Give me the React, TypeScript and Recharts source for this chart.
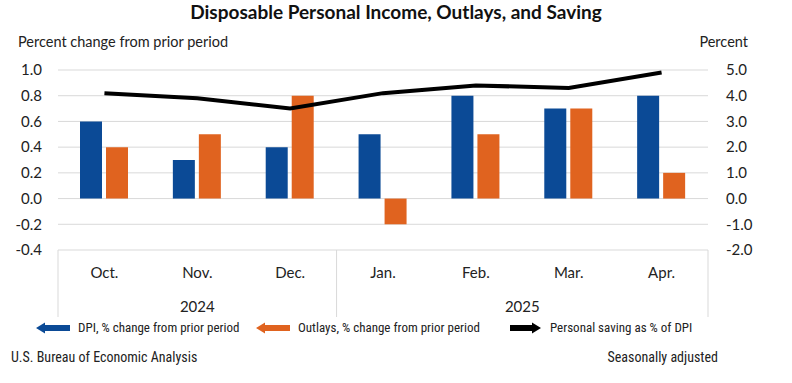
import React from 'react';
import { ComposedChart, Bar, Line, XAxis, YAxis, CartesianGrid, Legend } from 'recharts';

const months = ['Oct.', 'Nov.', 'Dec.', 'Jan.', 'Feb.', 'Mar.', 'Apr.'];
const dpiChange = [0.6, 0.3, 0.4, 0.5, 0.8, 0.7, 0.8];
const outlaysChange = [0.4, 0.5, 0.8, -0.2, 0.5, 0.7, 0.2];
const savingRate = [4.1, 3.9, 3.5, 4.1, 4.4, 4.3, 4.9];
const leftTicks = [-0.4, -0.2, 0, 0.2, 0.4, 0.6, 0.8, 1.0];
const rightTicks = [-2, -1, 0, 1, 2, 3, 4, 5];

const data = months.map((m, i) => ({
  month: m,
  dpi: dpiChange[i],
  outlays: outlaysChange[i],
  saving: savingRate[i],
}));

const W = 792;
const H = 383;
const LEFT = 58;
const RIGHT = 84;
const TOP = 70;
const LEGEND_H = 20;
const BOTTOM = 58 - LEGEND_H;
const XH = 75;
const BW = (W - LEFT - RIGHT) / months.length;

const BLUE = '#0b4a96';
const ORANGE = '#e0631f';
const GRID = '#d9d9d9';
const TEXT = '#222';
const FONT = 'Lato, "Open Sans", sans-serif';
const NARROW = '"Liberation Sans Narrow", "Roboto Condensed", Lato, sans-serif';

const MonthTick = (props: any) => {
  const { x, y, payload, index } = props;
  const half = BW / 2;
  return (
    <g>
      <text x={x} y={y + 28} textAnchor="middle" fontSize={15} fill={TEXT} fontFamily={FONT}>
        {payload.value}
      </text>
      {index === 1 && (
        <text x={x} y={y + 62} textAnchor="middle" fontSize={15} fill={TEXT} fontFamily={FONT}>
          2024
        </text>
      )}
      {index === 4 && (
        <text x={x + half} y={y + 62} textAnchor="middle" fontSize={15} fill={TEXT} fontFamily={FONT}>
          2025
        </text>
      )}
      {(index === 0 || index === 3) && (
        <line x1={x - half} x2={x - half} y1={y} y2={y + 67} stroke={GRID} strokeWidth={1} />
      )}
      {index === 6 && (
        <line x1={x + half} x2={x + half} y1={y} y2={y + 67} stroke={GRID} strokeWidth={1} />
      )}
    </g>
  );
};

const ArrowLeft = ({ color }: { color: string }) => (
  <svg width={34} height={12} style={{ position: 'absolute', top: -6 }}>
    <polygon points="0,6 9,0.5 9,3 34,3 34,9 9,9 9,11.5" fill={color} />
  </svg>
);
const ArrowRight = ({ color }: { color: string }) => (
  <svg width={31} height={12} style={{ position: 'absolute', top: -6 }}>
    <polygon points="31,6 22,0.5 22,3 0,3 0,9 22,9 22,11.5" fill={color} />
  </svg>
);

const LegendContent = () => {
  const txt: React.CSSProperties = {
    position: 'absolute',
    top: -9,
    fontSize: 13,
    fontFamily: NARROW,
    color: TEXT,
    whiteSpace: 'nowrap',
    lineHeight: '18px',
  };
  return (
    <div style={{ position: 'relative', width: W, height: LEGEND_H }}>
      <div style={{ position: 'absolute', left: 36, top: 0 }}><ArrowLeft color={BLUE} /></div>
      <span style={{ ...txt, left: 78 }}>DPI, % change from prior period</span>
      <div style={{ position: 'absolute', left: 256, top: 0 }}><ArrowLeft color={ORANGE} /></div>
      <span style={{ ...txt, left: 298 }}>Outlays, % change from prior period</span>
      <div style={{ position: 'absolute', left: 510, top: 0 }}><ArrowRight color="#000" /></div>
      <span style={{ ...txt, left: 550 }}>Personal saving as % of DPI</span>
    </div>
  );
};

export default function App() {
  return (
    <div style={{ position: 'absolute', left: 0, top: 0, width: W, height: H, background: '#fff', overflow: 'hidden' }}>
      <div style={{ position: 'absolute', left: 0, width: W, top: 0, textAlign: 'center', fontFamily: FONT, fontWeight: 700, fontSize: 19, color: '#111', lineHeight: '24px' }}>
        Disposable Personal Income, Outlays, and Saving
      </div>
      <div style={{ position: 'absolute', left: 18, top: 32, fontFamily: FONT, fontSize: 14.5, color: TEXT, lineHeight: '20px' }}>
        Percent change from prior period
      </div>
      <div style={{ position: 'absolute', right: 44, top: 32, fontFamily: FONT, fontSize: 14.5, color: TEXT, lineHeight: '20px' }}>
        Percent
      </div>
      <ComposedChart
        width={W}
        height={H}
        data={data}
        margin={{ top: TOP, right: 0, bottom: BOTTOM, left: 0 }}
        barSize={22}
        barGap={4}
      >
        <CartesianGrid vertical={false} stroke={GRID} strokeWidth={1} />
        <XAxis
          dataKey="month"
          axisLine={false}
          tickLine={false}
          tickSize={0}
          tickMargin={0}
          height={XH}
          interval={0}
          tick={<MonthTick />}
        />
        <YAxis
          domain={[-0.4, 1.0]}
          ticks={leftTicks}
          tickFormatter={(v: number) => v.toFixed(1)}
          axisLine={false}
          tickLine={false}
          tickSize={0}
          tickMargin={16}
          width={LEFT}
          tick={{ fontSize: 15, fill: TEXT, fontFamily: FONT }}
          interval={0}
        />
        <YAxis
          yAxisId="right"
          orientation="right"
          domain={[-2, 5]}
          ticks={rightTicks}
          tickFormatter={(v: number) => v.toFixed(1)}
          axisLine={false}
          tickLine={false}
          tickSize={0}
          tickMargin={18}
          width={RIGHT}
          tick={{ fontSize: 15, fill: TEXT, fontFamily: FONT, textAnchor: 'start' }}
          interval={0}
        />
        <Legend
          content={<LegendContent />}
          wrapperStyle={{ position: 'absolute', top: 328, left: 0, width: W, height: LEGEND_H }}
        />
        <Bar dataKey="dpi" fill={BLUE} isAnimationActive={false} name="DPI, % change from prior period" />
        <Bar dataKey="outlays" fill={ORANGE} isAnimationActive={false} name="Outlays, % change from prior period" />
        <Line
          yAxisId="right"
          dataKey="saving"
          stroke="#000"
          strokeWidth={4}
          dot={false}
          activeDot={false}
          type="linear"
          isAnimationActive={false}
          name="Personal saving as % of DPI"
        />
      </ComposedChart>
      <div style={{ position: 'absolute', left: 11, top: 348, fontFamily: NARROW, fontSize: 14, color: TEXT, lineHeight: '18px' }}>
        U.S. Bureau of Economic Analysis
      </div>
      <div style={{ position: 'absolute', right: 74, top: 348, fontFamily: NARROW, fontSize: 14, color: TEXT, lineHeight: '18px' }}>
        Seasonally adjusted
      </div>
    </div>
  );
}
